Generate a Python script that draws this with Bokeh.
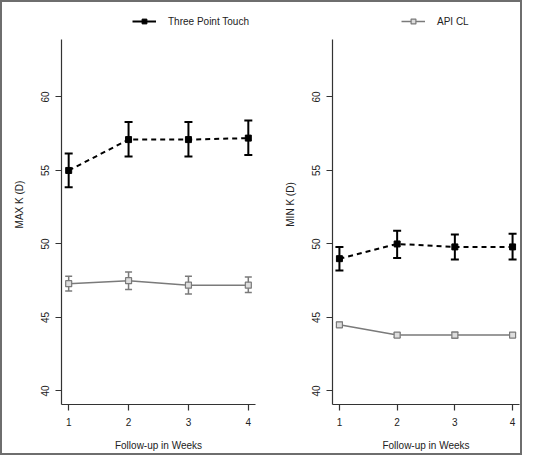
from bokeh.plotting import figure
from bokeh.models import (ColumnDataSource, Whisker, TeeHead, Legend, LegendItem,
                          FixedTicker, Range1d)
from bokeh.layouts import row
from bokeh.embed import file_html
from bokeh.resources import INLINE

weeks = [1, 2, 3, 4]
week_ticks = [1, 2, 3, 4]
y_ticks = [40, 45, 50, 55, 60]

max_tpt = [55.0, 57.1, 57.1, 57.2]
max_tpt_lo = [53.85, 55.95, 55.95, 56.05]
max_tpt_hi = [56.15, 58.3, 58.3, 58.4]
max_api = [47.3, 47.5, 47.2, 47.2]
max_api_lo = [46.8, 46.9, 46.6, 46.7]
max_api_hi = [47.8, 48.1, 47.8, 47.75]

min_tpt = [49.0, 50.0, 49.8, 49.8]
min_tpt_lo = [48.2, 49.05, 48.95, 48.95]
min_tpt_hi = [49.8, 50.9, 50.65, 50.7]
min_api = [44.5, 43.8, 43.8, 43.8]
min_api_lo = [44.35, 43.65, 43.6, 43.65]
min_api_hi = [44.65, 43.95, 44.0, 43.95]

FONT = "Liberation Sans"
GRAY = "#7a7a7a"
AX = "#333333"
NAN = float("nan")

Y0, Y1 = 39.08, 63.92          # axis extent
H = 451
MB_TOP, MB_BOTTOM = 2, 47
AXIS_TOP_PX = 37               # axis top, px below canvas top
FRAME_H = H - MB_TOP - MB_BOTTOM
axis_h = FRAME_H - (AXIS_TOP_PX - MB_TOP)
Y_TOP = Y1 + (AXIS_TOP_PX - MB_TOP) * (Y1 - Y0) / axis_h


def panel(width, mb_left, mb_right, ylabel, tpt, tlo, thi, api, alo, ahi,
          legend_label, legend_kind, legend_x):
    p = figure(width=width, height=H, output_backend="svg", toolbar_location=None,
               x_range=Range1d(0.88, 4.12), y_range=Range1d(Y0, Y_TOP),
               min_border_left=mb_left, min_border_right=mb_right,
               min_border_top=MB_TOP, min_border_bottom=MB_BOTTOM)
    p.outline_line_color = None
    p.grid.visible = False
    p.background_fill_color = "white"
    p.border_fill_color = "white"

    src_t = ColumnDataSource(dict(x=weeks, y=tpt, lo=tlo, hi=thi))
    src_a = ColumnDataSource(dict(x=weeks, y=api, lo=alo, hi=ahi))

    p.line("x", "y", source=src_t, line_color="black", line_width=2, line_dash="5 4")
    p.line("x", "y", source=src_a, line_color=GRAY, line_width=1.5)

    wt = Whisker(base="x", upper="hi", lower="lo", source=src_t,
                 line_color="black", line_width=2,
                 upper_head=TeeHead(size=8, line_color="black", line_width=2),
                 lower_head=TeeHead(size=8, line_color="black", line_width=2))
    wa = Whisker(base="x", upper="hi", lower="lo", source=src_a,
                 line_color=GRAY, line_width=1.5,
                 upper_head=TeeHead(size=7, line_color=GRAY, line_width=1.5),
                 lower_head=TeeHead(size=7, line_color=GRAY, line_width=1.5))
    p.add_layout(wt)
    p.add_layout(wa)

    p.scatter("x", "y", source=src_t, marker="square", size=6, color="black")
    p.scatter("x", "y", source=src_a, marker="square", size=6,
              line_color=GRAY, fill_color="#dddddd", line_width=1.2)

    # legend-only renderers (NaN data: nothing drawn in the plot)
    if legend_kind == "tpt":
        lr = p.line(x=[NAN, NAN], y=[NAN, NAN], line_color="black", line_width=2)
        mr = p.scatter(x=[NAN], y=[NAN], marker="square", size=6, color="black")
    else:
        lr = p.line(x=[NAN, NAN], y=[NAN, NAN], line_color=GRAY, line_width=1.5)
        mr = p.scatter(x=[NAN], y=[NAN], marker="square", size=6, line_color=GRAY,
                       fill_color="#dddddd", line_width=1.2)
    leg = Legend(items=[LegendItem(label=legend_label, renderers=[lr, mr])],
                 location=(legend_x, FRAME_H - 25), padding=0, margin=0, spacing=0,
                 glyph_width=24, glyph_height=12, label_height=12,
                 label_standoff=12, border_line_color=None,
                 background_fill_alpha=0, label_text_font=FONT,
                 label_text_font_size="10px", label_text_color="#222222")
    p.add_layout(leg)

    for ax in (p.xaxis[0], p.yaxis[0]):
        ax.axis_line_color = AX
        ax.axis_line_width = 1.2
        ax.major_tick_line_color = AX
        ax.major_tick_line_width = 1.2
        ax.major_tick_out = 6
        ax.major_tick_in = 0
        ax.minor_tick_line_color = None
        ax.major_label_text_font = FONT
        ax.major_label_text_font_size = "10px"
        ax.major_label_text_color = "#222222"
        ax.axis_label_text_font = FONT
        ax.axis_label_text_font_size = "10px"
        ax.axis_label_text_font_style = "normal"
        ax.axis_label_text_color = "#222222"

    p.yaxis.bounds = (Y0, Y1)
    p.xaxis.ticker = FixedTicker(ticks=week_ticks)
    p.yaxis.ticker = FixedTicker(ticks=y_ticks)
    p.xaxis.axis_label = "Follow-up in Weeks"
    p.yaxis.axis_label = ylabel
    p.xaxis.major_label_standoff = 7
    p.xaxis.axis_label_standoff = 11
    p.yaxis.major_label_standoff = 6
    p.yaxis.axis_label_standoff = 14
    p.yaxis.major_label_orientation = "vertical"
    return p


p1 = panel(274, 59, 21, "MAX K (D)", max_tpt, max_tpt_lo, max_tpt_hi,
           max_api, max_api_lo, max_api_hi, "Three Point Touch", "tpt", 71)
p2 = panel(244, 56, 1, "MIN K (D)", min_tpt, min_tpt_lo, min_tpt_hi,
           min_api, min_api_lo, min_api_hi, "API CL", "api", 69)

p = row(p1, p2, styles={"border": "2px solid #6e6e6e"})

open("out.html", "w").write(file_html(p, INLINE))
